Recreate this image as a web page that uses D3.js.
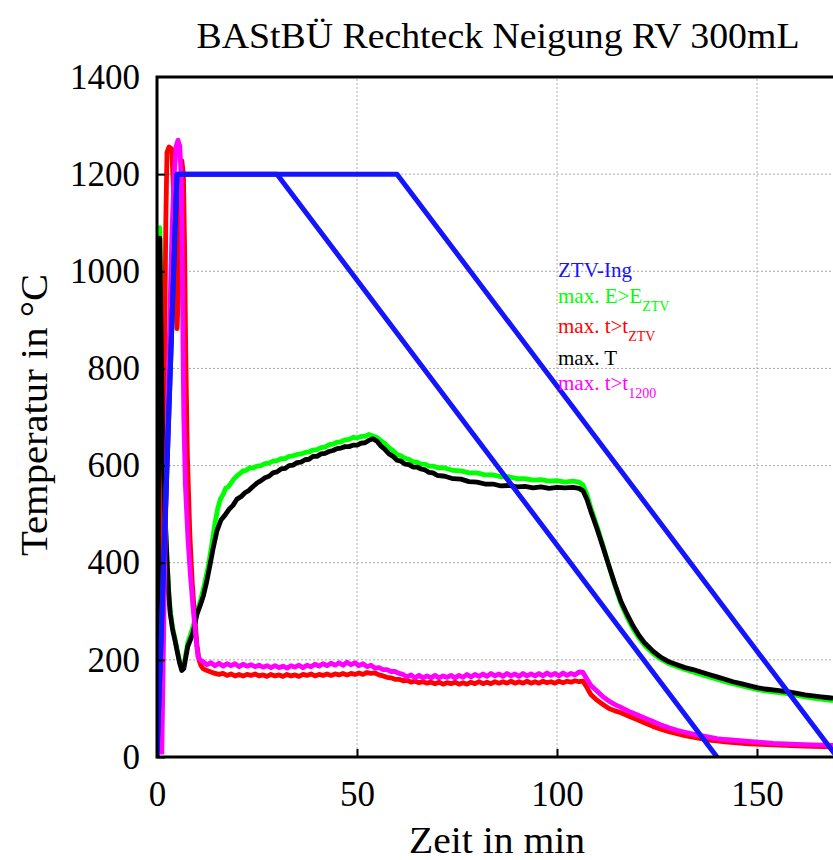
<!DOCTYPE html>
<html><head><meta charset="utf-8">
<script src="https://cdn.jsdelivr.net/npm/d3@7"></script>
<style>body{margin:0;background:#fff}svg{display:block}</style>
</head><body>
<svg id="c" width="833" height="860"></svg>
<script>
const title = "BAStBÜ Rechteck Neigung RV 300mL";
const xTicks = [0, 50, 100, 150];
const yTicks = [0, 200, 400, 600, 800, 1000, 1200, 1400];
const legendLabels = ["ZTV-Ing", "max. E>E", "max. t>t", "max. T", "max. t>t"];
const legendSubs = ["", "ZTV", "ZTV", "", "1200"];

// ZTV-ING reference curves [min, °C]
const ztv1 = [[0,0],[5,1200],[30,1200],[140,0]];
const ztv2 = [[0,0],[5,1200],[60,1200],[170,0]];

// max. E>E_ZTV (green)
const green = [[0.2,15],[0.4,600],[0.7,1090],[0.9,1000],[1.2,820],[1.5,650],[2.0,500],[2.5,412],[2.9,345],[3.3,302],[3.9,266],[4.5,244],[5.0,222],[5.6,198],[6.2,182],[6.7,186],[7.2,212],[7.7,236],[8.3,250],[9,268],[10,300],[10.8,320],[11.6,346],[12.8,392],[13.6,432],[14.5,482],[15.2,512],[15.8,530],[16.5,540],[17.2,554],[17.8,556],[18.5,564],[19.2,572],[20,579],[20.8,584],[21.5,589],[22.3,590],[23.2,596],[24,595],[25,599],[26,600],[27,604],[28,605],[29,609],[30,610],[31,614],[32,614],[33,619],[34,620],[35,623],[36,624],[37,627],[38,628],[39,632],[40,633],[41,637],[42,638],[43,643],[44,644],[45,648],[46,649],[47,653],[48,654],[49,658],[50,657],[51,660],[52,660],[53,664],[54,661],[55,658],[56,651],[57,645],[58,637],[59,631],[60,623],[61,620],[62,615],[63,613],[64,608],[65,607],[66,603],[67,603],[68,599],[69,599],[70,596],[72,595],[74,590],[76,589],[78,585],[80,585],[82,581],[84,581],[86,577],[88,577],[90,573],[92,573],[94,570],[96,571],[98,568],[100,569],[102,566],[104,568],[105.5,566],[106.5,560],[107.5,540],[108.5,512],[110,475],[111.5,435],[113,393],[114.5,352],[116,316],[117.5,288],[119,264],[120.5,245],[122,229],[124,213],[126,201],[128,192],[130,186],[132,180],[134,175],[136,170],[138,165],[140,160],[142,155],[144,151],[146,147],[148,143],[150,139],[152,136],[154,134],[156,132],[158,130],[160,127],[162,124],[164,121],[166,119],[168,117],[169,116]];

// max. t>t_ZTV (red)
const red = [[0.8,10],[1.3,350],[1.8,750],[2.2,1100],[2.5,1245],[3.0,1256],[3.7,1252],[4.2,1150],[4.6,980],[5.0,882],[5.4,960],[5.8,1150],[6.2,1228],[6.6,1200],[6.9,1050],[7.2,820],[7.6,620],[8.2,460],[8.8,360],[9.4,290],[10.0,230],[10.5,200],[11,188],[11.5,182],[12.5,178],[13.5,175],[14.5,172],[15.5,170],[16.5,172],[17.5,168],[18.5,171],[19.5,167],[20.5,170],[21.5,167],[22.5,170],[23.5,168],[24.5,171],[25.5,167],[26.5,169],[27.5,166],[28.5,170],[29.5,167],[30.5,169],[31.5,166],[32.5,170],[33.5,167],[34.5,169],[35.5,166],[36.5,170],[37.5,168],[38.5,171],[39.5,167],[40.5,170],[41.5,168],[42.5,171],[43.5,168],[44.5,171],[45.5,169],[46.5,172],[47.5,169],[48.5,172],[49.5,170],[50.5,173],[51.5,170],[52.5,174],[53.5,172],[54.5,173],[55.5,169],[56.5,167],[57.5,164],[58.5,163],[59.5,160],[60.5,160],[61.5,157],[62.5,158],[63.5,154],[64.5,156],[65.5,153],[66.5,155],[67.5,152],[68.5,154],[69.5,151],[70.5,154],[71.5,150],[72.5,153],[73.5,151],[74.5,154],[75.5,150],[76.5,153],[77.5,150],[78.5,154],[79.5,151],[80.5,155],[81.5,151],[82.5,154],[83.5,151],[84.5,155],[85.5,152],[86.5,155],[87.5,152],[88.5,156],[89.5,152],[90.5,155],[91.5,152],[92.5,156],[93.5,152],[94.5,155],[95.5,152],[96.5,156],[97.5,153],[98.5,155],[99.5,152],[100.5,156],[101.5,153],[102.5,156],[103.5,154],[104.5,157],[105.5,155],[106.5,156],[107.5,143],[108.5,128],[110,117],[111.5,108],[113,100],[114.5,95],[116,91],[118,84],[120,77],[122,70],[124,63],[126,57],[128,52],[130,48],[132,44],[134,41],[136,38],[138,35],[140,33],[142,31],[145,29],[148,27],[151,26],[154,25],[157,24],[160,23],[164,22],[169,21]];

// max. T (black)
const black = [[0.2,15],[0.4,560],[0.7,1068],[0.9,940],[1.2,760],[1.5,630],[2.0,500],[2.5,405],[2.9,340],[3.3,296],[3.9,262],[4.5,240],[5.0,220],[5.6,195],[6.2,178],[6.7,182],[7.2,205],[7.7,228],[8.3,240],[9,256],[10,294],[10.8,312],[11.6,332],[12.4,360],[13.2,393],[14,428],[15,466],[16,488],[17,498],[18,510],[19,518],[20,531],[21,536],[22,544],[23,549],[24,557],[25,564],[26,569],[27,575],[28,578],[29,585],[30,587],[31,593],[32,594],[33,600],[34,601],[35,606],[36,607],[37,612],[38,613],[39,619],[40,619],[41,624],[42,625],[43,629],[44,631],[45,635],[46,636],[47,639],[48,639],[49,642],[50,642],[51,646],[52,647],[53,652],[54,655],[55,650],[56,640],[57,633],[58,624],[59,619],[60,611],[61,609],[62,603],[63,602],[64,597],[65,597],[66,593],[67,591],[68,586],[69,585],[70,580],[72,578],[74,573],[76,572],[78,567],[80,566],[82,562],[84,562],[86,558],[88,559],[90,556],[92,557],[94,554],[96,556],[98,553],[100,555],[102,554],[104,555],[105.5,553],[106.5,548],[107.5,530],[108.5,505],[110,470],[111.5,432],[113,393],[114.5,355],[116,320],[117.5,294],[119,270],[120.5,250],[122,234],[124,218],[126,205],[128,196],[130,190],[132,184],[134,180],[136,175],[138,170],[140,165],[142,160],[144,155],[146,151],[148,147],[150,143],[152,140],[154,138],[156,136],[158,134],[160,131],[162,128],[164,126],[166,124],[168,122],[169,121]];

// max. t>t_1200 (magenta)
const magenta = [[1.2,5],[1.8,330],[2.5,650],[3.2,900],[3.75,1085],[4.3,1200],[4.8,1258],[5.25,1270],[5.7,1258],[6.1,1180],[6.35,1000],[6.5,850],[6.7,700],[7.1,560],[7.75,447],[8.4,370],[9,309],[9.6,255],[10.25,206],[10.8,200],[11.5,196],[12.5,190],[13.5,194],[14.5,188],[15.5,193],[16.5,187],[17.5,192],[18.5,188],[19.5,192],[20.5,186],[21.5,191],[22.5,187],[23.5,190],[24.5,186],[25.5,189],[26.5,185],[27.5,188],[28.5,184],[29.5,188],[30.5,184],[31.5,187],[32.5,183],[33.5,188],[34.5,185],[35.5,189],[36.5,184],[37.5,189],[38.5,186],[39.5,191],[40.5,187],[41.5,192],[42.5,188],[43.5,193],[44.5,189],[45.5,194],[46.5,189],[47.5,195],[48.5,190],[49.5,194],[50.5,188],[51.5,192],[52.5,186],[53.5,189],[54.5,183],[55.5,184],[56.5,180],[57.5,180],[58.5,176],[59.5,176],[60.5,172],[61.5,170],[62.5,165],[63.5,169],[64.5,163],[65.5,168],[66.5,163],[67.5,167],[68.5,163],[69.5,168],[70.5,163],[71.5,167],[72.5,164],[73.5,168],[74.5,163],[75.5,168],[76.5,164],[77.5,170],[78.5,165],[79.5,170],[80.5,166],[81.5,171],[82.5,166],[83.5,172],[84.5,167],[85.5,171],[86.5,166],[87.5,172],[88.5,167],[89.5,171],[90.5,166],[91.5,172],[92.5,167],[93.5,171],[94.5,167],[95.5,172],[96.5,167],[97.5,173],[98.5,168],[99.5,172],[100.5,167],[101.5,173],[102.5,168],[103.5,172],[104.5,169],[105.5,175],[106.5,174],[107.5,160],[108.5,147],[110,136],[111.5,124],[113,115],[114.5,108],[116,102],[118,94],[120,87],[122,80],[124,73],[126,66],[128,60],[130,55],[132,51],[134,47],[136,44],[138,41],[140,38],[142,36],[145,34],[148,32],[151,30],[154,28],[157,27],[160,26],[164,25],[169,24]];

const colors = {blue:"#1414ff", green:"#00ff00", red:"#ff0000", black:"#000000", magenta:"#ff00ff"};
const legendColors = [colors.blue, colors.green, colors.red, colors.black, colors.magenta];
const FONT = "'Liberation Serif', 'Times New Roman', serif";

const svg = d3.select("#c");
const x = d3.scaleLinear().domain([0, 169]).range([157, 833]);
const y = d3.scaleLinear().domain([0, 1400]).range([757, 77]);

// grid
const grid = svg.append("g").attr("stroke", "#a8a8a8").attr("stroke-width", 1).attr("stroke-dasharray", "2,2");
xTicks.filter(d => d > 0).forEach(d => grid.append("line").attr("x1", x(d)).attr("x2", x(d)).attr("y1", y(0)).attr("y2", y(1400)));
yTicks.filter(d => d > 0 && d < 1400).forEach(d => grid.append("line").attr("x1", x(0)).attr("x2", 833).attr("y1", y(d)).attr("y2", y(d)));

// clip
svg.append("clipPath").attr("id", "pc").append("rect").attr("x", 157).attr("y", 77).attr("width", 676).attr("height", 680);

const line = d3.line().x(d => x(d[0])).y(d => y(d[1]));
const plot = svg.append("g").attr("clip-path", "url(#pc)").attr("fill", "none").attr("stroke-linejoin", "round");
plot.append("path").attr("d", line(green)).attr("stroke", colors.green).attr("stroke-width", 4.8);
plot.append("path").attr("d", line(red)).attr("stroke", colors.red).attr("stroke-width", 4.8);
plot.append("path").attr("d", line(black)).attr("stroke", colors.black).attr("stroke-width", 4.8);
plot.append("path").attr("d", line(magenta)).attr("stroke", colors.magenta).attr("stroke-width", 4.8);
plot.append("path").attr("d", line(ztv1)).attr("stroke", colors.blue).attr("stroke-width", 5);
plot.append("path").attr("d", line(ztv2)).attr("stroke", colors.blue).attr("stroke-width", 5);

// axes
const ya = svg.append("g").attr("transform", `translate(${x(0)},0)`)
  .call(d3.axisLeft(y).tickValues(yTicks).tickSize(-8).tickPadding(17).tickFormat(d3.format("d")));
const xa = svg.append("g").attr("transform", `translate(0,${y(0)})`)
  .call(d3.axisBottom(x).tickValues(xTicks).tickSize(-8).tickPadding(24).tickFormat(d3.format("d")));
[ya, xa].forEach(a => {
  a.select(".domain").remove();
  a.selectAll(".tick line").attr("stroke", "#000").attr("stroke-width", 2);
  a.selectAll("text").attr("font-family", FONT).attr("font-size", 35).attr("fill", "#000");
});
ya.selectAll(".tick").filter(d => d === 1400).select("line").remove();

// frame
const frame = svg.append("g").attr("stroke", "#000").attr("stroke-width", 3).attr("fill", "none");
frame.append("path").attr("d", `M833,${y(1400)}H${x(0)}V${y(0)}H833`);

// title & labels
svg.append("text").attr("x", 498).attr("y", 48).attr("text-anchor", "middle")
  .attr("font-family", FONT).attr("font-size", 36).attr("textLength", 603).attr("lengthAdjust", "spacingAndGlyphs").text(title);
svg.append("text").attr("x", 497).attr("y", 853).attr("text-anchor", "middle")
  .attr("font-family", FONT).attr("font-size", 37).attr("textLength", 176).attr("lengthAdjust", "spacingAndGlyphs").text("Zeit in min");
svg.append("text").attr("transform", "translate(47,415) rotate(-90)").attr("text-anchor", "middle")
  .attr("font-family", FONT).attr("font-size", 37).attr("textLength", 282).attr("lengthAdjust", "spacingAndGlyphs").text("Temperatur in °C");

// legend
const legendY = [277, 303, 333, 365, 390];
legendLabels.forEach((lab, i) => {
  const t = svg.append("text").attr("x", 558).attr("y", legendY[i]).attr("font-family", FONT)
    .attr("font-size", 21).attr("fill", legendColors[i]);
  t.append("tspan").text(lab);
  if (legendSubs[i]) t.append("tspan").attr("dy", 8).attr("font-size", 14).text(legendSubs[i]);
});
</script>
</body></html>
